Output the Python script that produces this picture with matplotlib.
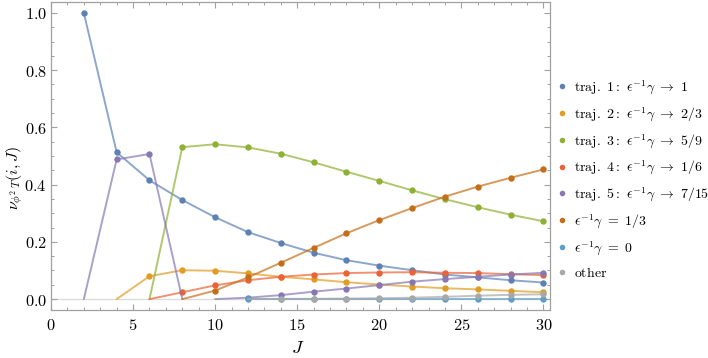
import numpy as np
import matplotlib
matplotlib.use("Agg")
import matplotlib.pyplot as plt
from matplotlib.ticker import MultipleLocator, FuncFormatter

plt.rcParams['mathtext.fontset'] = 'cm'
plt.rcParams['font.family'] = ['DejaVu Serif']

# ---------------- data ----------------
J_traj1 = [2, 4, 6, 8, 10, 12, 14, 16, 18, 20, 22, 24, 26, 28, 30]
traj1 = [1.0, 0.513, 0.415, 0.346, 0.286, 0.234, 0.196, 0.162, 0.136, 0.117, 0.101, 0.086, 0.076, 0.066, 0.058]

J_traj2 = [4, 6, 8, 10, 12, 14, 16, 18, 20, 22, 24, 26, 28, 30]
traj2 = [0.0, 0.080, 0.101, 0.099, 0.090, 0.078, 0.069, 0.059, 0.051, 0.044, 0.038, 0.034, 0.029, 0.024]

J_traj3 = [6, 8, 10, 12, 14, 16, 18, 20, 22, 24, 26, 28, 30]
traj3 = [0.0, 0.531, 0.541, 0.530, 0.508, 0.478, 0.445, 0.413, 0.380, 0.349, 0.321, 0.295, 0.272]

J_traj4 = [6, 8, 10, 12, 14, 16, 18, 20, 22, 24, 26, 28, 30]
traj4 = [0.0, 0.024, 0.048, 0.066, 0.078, 0.086, 0.091, 0.093, 0.094, 0.092, 0.091, 0.087, 0.084]

J_traj5a = [2, 4, 6, 8]
traj5a = [0.0, 0.488, 0.507, 0.0]
J_traj5b = [10, 12, 14, 16, 18, 20, 22, 24, 26, 28, 30]
traj5b = [0.0, 0.005, 0.014, 0.026, 0.037, 0.049, 0.061, 0.070, 0.078, 0.086, 0.092]

J_third = [8, 10, 12, 14, 16, 18, 20, 22, 24, 26, 28, 30]
third = [0.0, 0.030, 0.076, 0.127, 0.179, 0.230, 0.276, 0.318, 0.358, 0.393, 0.424, 0.453]

J_zero = [12, 14, 16, 18, 20, 22, 24, 26, 28, 30]
zero = [0.001, 0.001, 0.001, 0.001, 0.001, 0.001, 0.001, 0.001, 0.001, 0.001]

J_other = [12, 14, 16, 18, 20, 22, 24, 26, 28, 30]
other = [0.0, 0.001, 0.001, 0.002, 0.003, 0.005, 0.008, 0.012, 0.015, 0.017]

labels = [r'$\mathrm{traj.\ 1{:}}\ \epsilon^{-1}\gamma\ \rightarrow\ 1$',
          r'$\mathrm{traj.\ 2{:}}\ \epsilon^{-1}\gamma\ \rightarrow\ 2/3$',
          r'$\mathrm{traj.\ 3{:}}\ \epsilon^{-1}\gamma\ \rightarrow\ 5/9$',
          r'$\mathrm{traj.\ 4{:}}\ \epsilon^{-1}\gamma\ \rightarrow\ 1/6$',
          r'$\mathrm{traj.\ 5{:}}\ \epsilon^{-1}\gamma\ \rightarrow\ 7/15$',
          r'$\epsilon^{-1}\gamma\ =\ 1/3$',
          r'$\epsilon^{-1}\gamma\ =\ 0$',
          r'$\mathrm{other}$']
colors = ['#5E81B5', '#E19C24', '#8FB032', '#EB6235', '#8778B3', '#C56E1A', '#5D9EC7', '#A8A8A8']

fig = plt.figure(figsize=(7.08, 3.58), dpi=100)
ax = fig.add_axes([51/708, 1-310/358, (550-51)/708, (310-2)/358])

ax.axhline(0, color='#dcdcdc', lw=1.0, zorder=1)

series = [
    [(J_traj1, traj1)],
    [(J_traj2, traj2)],
    [(J_traj3, traj3)],
    [(J_traj4, traj4)],
    [(J_traj5a, traj5a), (J_traj5b, traj5b)],
    [(J_third, third)],
    [(J_zero, zero)],
    [(J_other, other)],
]

handles = []
for k, (segs, c) in enumerate(zip(series, colors)):
    for (xs, ys) in segs:
        xs = np.array(xs, float); ys = np.array(ys, float)
        ax.plot(xs, ys, color=c, lw=1.4, alpha=0.7, zorder=2 + k, solid_capstyle='round')
        m = ys > 0
        ax.plot(xs[m], ys[m], 'o', color=c, ms=4.6, mew=0, zorder=2.5 + k)
    h, = ax.plot([], [], 'o', color=c, ms=4.0, mew=0)
    handles.append(h)

ax.set_xlim(0, 30.4)
ax.set_ylim(-0.038, 1.038)

spine_c = '#a0a0a0'
for s in ax.spines.values():
    s.set_color(spine_c)
    s.set_linewidth(0.9)

ax.xaxis.set_major_locator(MultipleLocator(5))
ax.xaxis.set_minor_locator(MultipleLocator(1))
ax.yaxis.set_major_locator(MultipleLocator(0.2))
ax.yaxis.set_minor_locator(MultipleLocator(0.05))
ax.tick_params(which='both', direction='in', top=True, right=True, color=spine_c)
ax.tick_params(which='major', length=4.5, width=0.8, labelsize=11.8, pad=3)
ax.tick_params(axis='x', which='major', pad=5)
ax.tick_params(which='minor', length=2.5, width=0.7)
ax.xaxis.set_major_formatter(FuncFormatter(lambda v, p: r'$%d$' % round(v)))
ax.yaxis.set_major_formatter(FuncFormatter(lambda v, p: r'$%.1f$' % v))

ax.set_xlabel(r'$J$', fontsize=13)
ax.xaxis.set_label_coords((298 - 51) / 499, (310 - 339) / 308)
ax.set_ylabel(r'$\nu_{\phi^2\,T}(i,J)$', fontsize=11.5)
ax.yaxis.set_label_coords((25 - 51) / 499, (310 - 178) / 308)

fig.legend(handles, labels, loc='center left', bbox_to_anchor=(559/708, 1 - 179/358),
           frameon=False, fontsize=10, handlelength=0.5, handletextpad=0.55,
           labelspacing=0.64, borderaxespad=0, borderpad=0)

fig.savefig('out.png', dpi=100)
